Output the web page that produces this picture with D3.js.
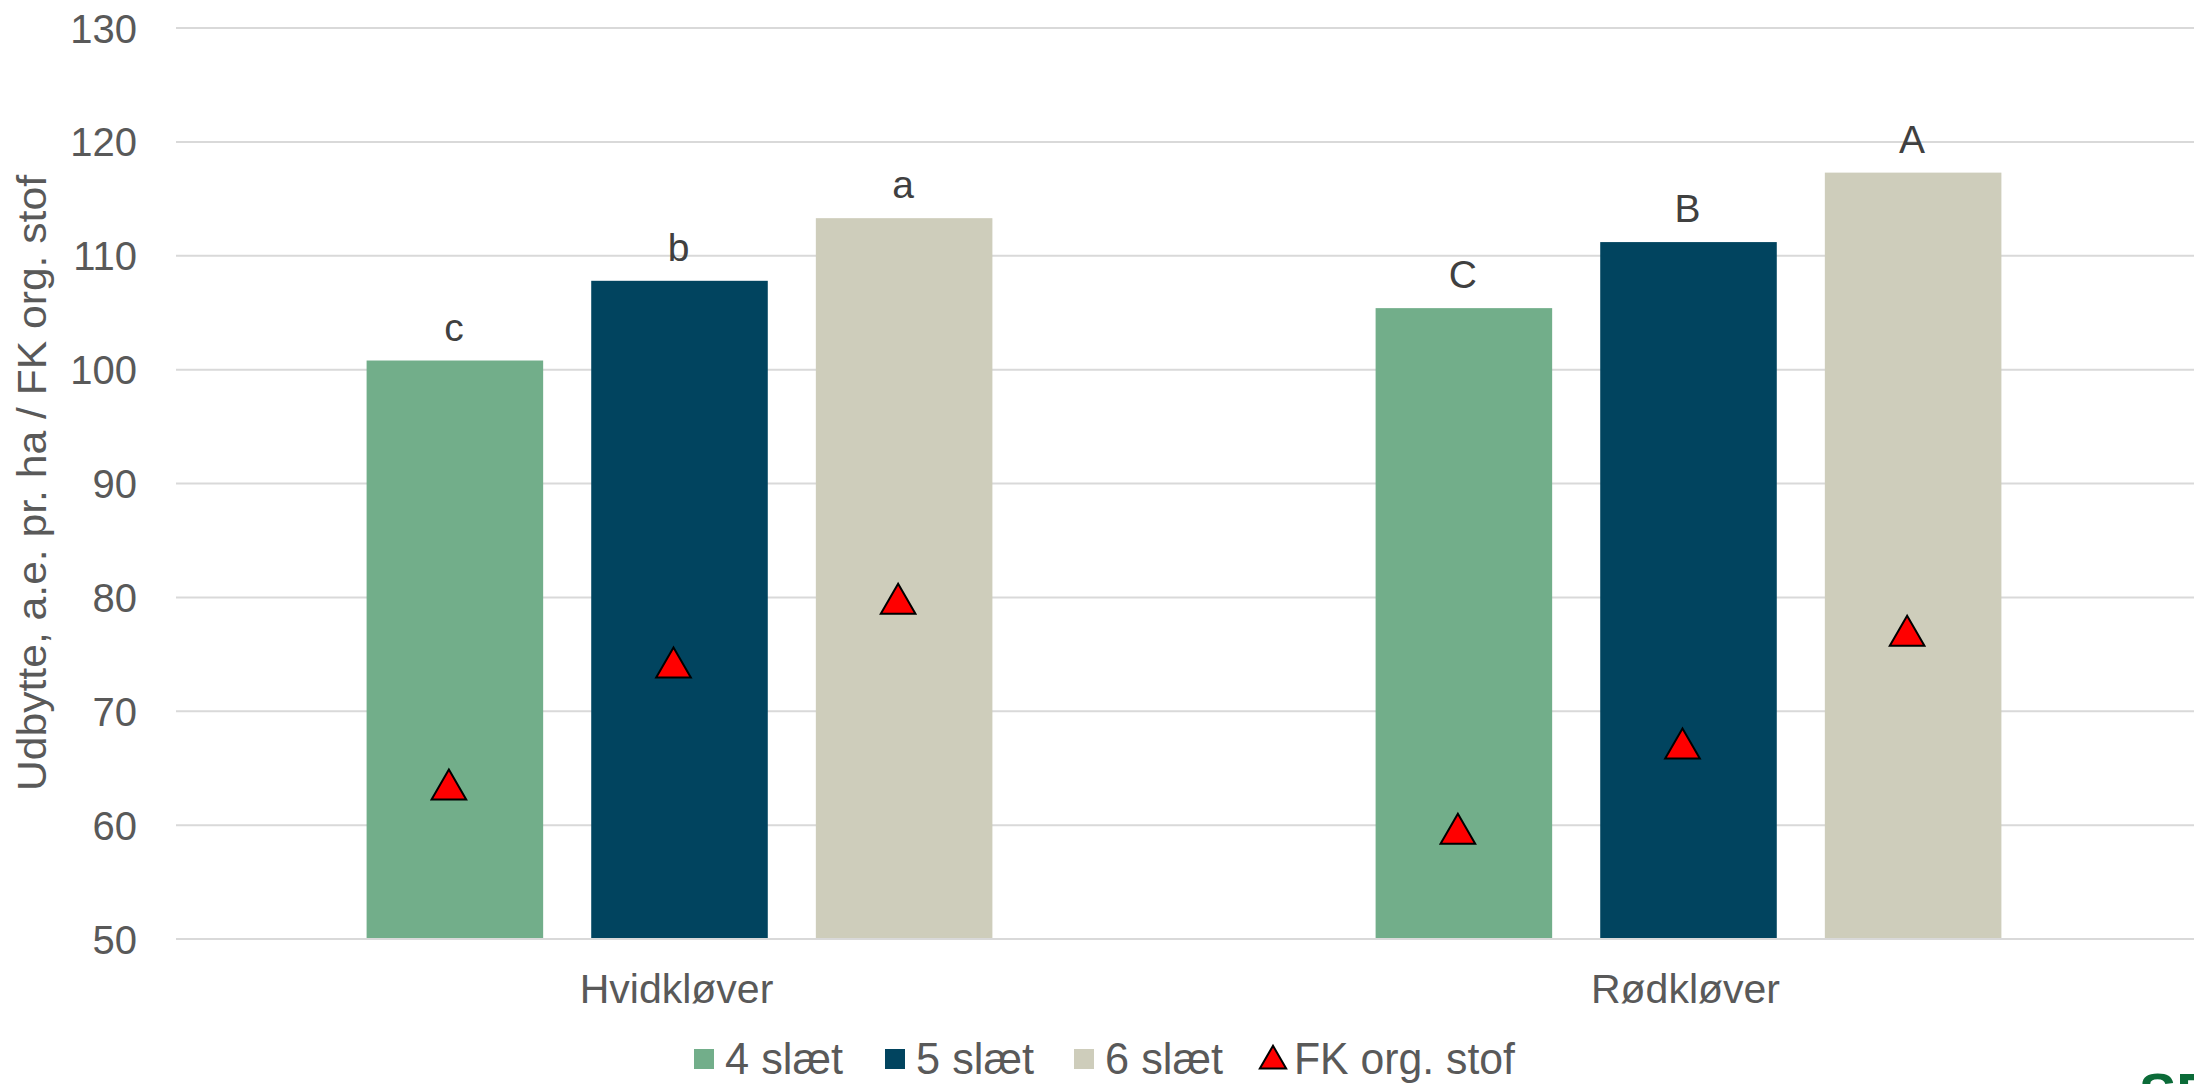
<!DOCTYPE html>
<html>
<head>
<meta charset="utf-8">
<script src="https://cdn.jsdelivr.net/npm/d3@7"></script>
<style>
  body { margin: 0; background: #fff; }
  svg { display: block; }
</style>
</head>
<body>
<div id="chart"></div>
<script>
// data
var categories = ["Hvidkløver", "Rødkløver"];
var seriesNames = ["4 slæt", "5 slæt", "6 slæt"];
var yield4 = [100.8, 105.4];
var yield5 = [107.8, 111.2];
var yield6 = [113.3, 117.3];
var fkOrg4 = [63.4, 59.5];
var fkOrg5 = [74.1, 67.0];
var fkOrg6 = [79.7, 76.9];
var letters4 = ["c", "C"];
var letters5 = ["b", "B"];
var letters6 = ["a", "A"];
var yTicks = [50, 60, 70, 80, 90, 100, 110, 120, 130];

var colors = ["#72AE8A", "#01445F", "#CECDBB"];

var W = 2194, H = 1084;
var svg = d3.select('#chart').append('svg')
    .attr('width', W)
    .attr('height', H);

var x0 = d3.scaleBand().domain(categories).range([176, 2194]).padding(0);
var x1 = d3.scaleBand().domain(seriesNames).range([0, x0.bandwidth()])
    .paddingInner(0.214).paddingOuter(0.853);
var y = d3.scaleLinear().domain([50, 130]).range([939, 28]);

// gridlines
svg.append('g')
    .selectAll('line')
    .data(yTicks)
    .join('line')
    .attr('x1', 176).attr('x2', W)
    .attr('y1', function (d) { return y(d); })
    .attr('y2', function (d) { return y(d); })
    .attr('stroke', '#D9D9D9')
    .attr('stroke-width', 2);

// y axis labels
var yAxis = d3.axisLeft(y).tickValues(yTicks).tickSize(0).tickPadding(0);
var gy = svg.append('g')
    .attr('transform', 'translate(137,0)')
    .call(yAxis);
gy.select('.domain').remove();
gy.selectAll('text')
    .attr('font-family', 'Liberation Sans, Arial, sans-serif')
    .attr('font-size', 40)
    .attr('fill', '#595959')
    .attr('dy', '0.35em');

// rows per category
var rows = categories.map(function (c, i) {
    return {
        cat: c,
        vals: [yield4[i], yield5[i], yield6[i]],
        fk: [fkOrg4[i], fkOrg5[i], fkOrg6[i]],
        letters: [letters4[i], letters5[i], letters6[i]]
    };
});

var groups = svg.append('g').selectAll('g')
    .data(rows)
    .join('g')
    .attr('transform', function (d) { return 'translate(' + x0(d.cat) + ',0)'; });

groups.selectAll('rect')
    .data(function (d) { return d.vals.map(function (v, j) { return { s: seriesNames[j], v: v, j: j }; }); })
    .join('rect')
    .attr('x', function (d) { return x1(d.s) - 1; })
    .attr('width', x1.bandwidth())
    .attr('y', function (d) { return y(d.v); })
    .attr('height', function (d) { return y(50) - y(d.v); })
    .attr('fill', function (d) { return colors[d.j]; });

// significance letters
groups.selectAll('text.lbl')
    .data(function (d) { return d.vals.map(function (v, j) { return { s: seriesNames[j], v: v, t: d.letters[j] }; }); })
    .join('text')
    .attr('class', 'lbl')
    .attr('x', function (d) { return x1(d.s) + x1.bandwidth() / 2 - 2; })
    .attr('y', function (d) { return y(d.v) - 20; })
    .attr('text-anchor', 'middle')
    .attr('font-family', 'Liberation Sans, Arial, sans-serif')
    .attr('font-size', 39)
    .attr('fill', '#404040')
    .text(function (d) { return d.t; });

// FK org. stof triangles
var tri = d3.symbol().type(d3.symbolTriangle).size(520);
groups.selectAll('path.fk')
    .data(function (d) { return d.fk.map(function (v, j) { return { s: seriesNames[j], v: v }; }); })
    .join('path')
    .attr('class', 'fk')
    .attr('d', tri)
    .attr('transform', function (d) {
        return 'translate(' + (x1(d.s) + x1.bandwidth() / 2 - 7) + ',' + (y(d.v) + 3) + ')';
    })
    .attr('fill', '#FF0000')
    .attr('stroke', '#000')
    .attr('stroke-width', 2);

// baseline
svg.append('line')
    .attr('x1', 176).attr('x2', W)
    .attr('y1', y(50)).attr('y2', y(50))
    .attr('stroke', '#D9D9D9').attr('stroke-width', 2);

// category labels
svg.append('g').selectAll('text')
    .data(categories)
    .join('text')
    .attr('x', function (d) { return x0(d) + x0.bandwidth() / 2 - 4; })
    .attr('y', 1003)
    .attr('text-anchor', 'middle')
    .attr('font-family', 'Liberation Sans, Arial, sans-serif')
    .attr('font-size', 41)
    .attr('fill', '#595959')
    .text(function (d) { return d; });

// y axis title
svg.append('text')
    .attr('transform', 'translate(46,483) rotate(-90)')
    .attr('text-anchor', 'middle')
    .attr('font-family', 'Liberation Sans Narrow, Arial Narrow, Liberation Sans, sans-serif')
    .attr('font-size', 40)
    .attr('fill', '#595959')
    .attr('textLength', 616)
    .attr('lengthAdjust', 'spacingAndGlyphs')
    .text('Udbytte, a.e. pr. ha / FK org. stof');

// legend
var legendItems = [
    { name: "4 slæt", kind: 'rect', color: colors[0], x: 704, w: 118 },
    { name: "5 slæt", kind: 'rect', color: colors[1], x: 895, w: 118 },
    { name: "6 slæt", kind: 'rect', color: colors[2], x: 1084, w: 118 },
    { name: "FK org. stof", kind: 'tri', color: '#FF0000', x: 1273, w: 221 }
];
var leg = svg.append('g').selectAll('g')
    .data(legendItems)
    .join('g')
    .attr('transform', function (d) { return 'translate(' + d.x + ',1059)'; });
leg.filter(function (d) { return d.kind === 'rect'; })
    .append('rect')
    .attr('x', -10).attr('y', -10).attr('width', 20).attr('height', 20)
    .attr('fill', function (d) { return d.color; });
leg.filter(function (d) { return d.kind === 'tri'; })
    .append('path')
    .attr('d', d3.symbol().type(d3.symbolTriangle).size(300))
    .attr('transform', 'translate(0,2)')
    .attr('fill', '#FF0000').attr('stroke', '#000').attr('stroke-width', 2);
leg.append('text')
    .attr('x', 21)
    .attr('y', 15)
    .attr('font-family', 'Liberation Sans Narrow, Arial Narrow, Liberation Sans, sans-serif')
    .attr('font-size', 44)
    .attr('fill', '#595959')
    .attr('textLength', function (d) { return d.w; })
    .attr('lengthAdjust', 'spacingAndGlyphs')
    .text(function (d) { return d.name; });

// clipped logo fragment in the corner (cut off in the reference too)
svg.append('text')
    .attr('x', 2139).attr('y', 1112)
    .attr('font-family', 'Liberation Sans, Arial, sans-serif')
    .attr('font-weight', 'bold')
    .attr('font-size', 56)
    .attr('fill', '#0B6B38')
    .text('SE');
</script>
</body>
</html>
